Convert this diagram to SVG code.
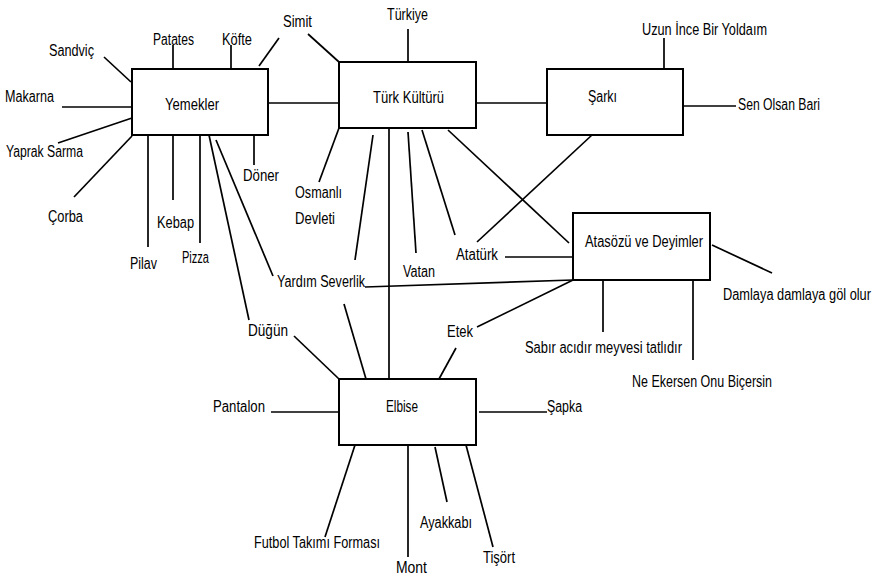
<svg xmlns="http://www.w3.org/2000/svg" width="881" height="580" viewBox="0 0 881 580">
<style>
.bg{fill:#fff}
.box{fill:#fff;stroke:#000;stroke-width:2}
.c line{stroke:#000;stroke-width:1.7}
text{font-family:"Liberation Sans",Arial,sans-serif;font-size:16px;fill:#000}
</style>
<rect class="bg" x="0" y="0" width="881" height="580"/>
<g id="connectors" class="c">
<line x1="104" y1="57" x2="131" y2="82"/>
<line x1="173" y1="45" x2="173" y2="69"/>
<line x1="231" y1="45" x2="231" y2="69"/>
<line x1="279" y1="38" x2="259" y2="66"/>
<line x1="308" y1="34" x2="339" y2="62"/>
<line x1="62" y1="107" x2="132" y2="107"/>
<line x1="58" y1="143" x2="132" y2="118"/>
<line x1="74" y1="197" x2="132" y2="136"/>
<line x1="148" y1="135" x2="148" y2="247"/>
<line x1="173" y1="135" x2="173" y2="200"/>
<line x1="200" y1="135" x2="200" y2="243"/>
<line x1="254" y1="135" x2="254" y2="165"/>
<line x1="209" y1="135" x2="249" y2="320"/>
<line x1="216" y1="140" x2="273" y2="276"/>
<line x1="268" y1="103" x2="339" y2="103"/>
<line x1="408" y1="29" x2="408" y2="62"/>
<line x1="339" y1="128" x2="319" y2="182"/>
<line x1="373" y1="135" x2="355" y2="260"/>
<line x1="389" y1="128" x2="389" y2="379"/>
<line x1="408" y1="132" x2="416" y2="253"/>
<line x1="422" y1="130" x2="455" y2="235"/>
<line x1="448" y1="130" x2="569" y2="243"/>
<line x1="476" y1="103" x2="547" y2="103"/>
<line x1="592" y1="135" x2="477" y2="242"/>
<line x1="664" y1="38" x2="664" y2="69"/>
<line x1="683" y1="106" x2="736" y2="106"/>
<line x1="505" y1="257" x2="573" y2="257"/>
<line x1="365" y1="287" x2="573" y2="280"/>
<line x1="573" y1="280" x2="477" y2="327"/>
<line x1="712" y1="245" x2="772" y2="273"/>
<line x1="603" y1="280" x2="603" y2="332"/>
<line x1="693" y1="280" x2="693" y2="360"/>
<line x1="456" y1="348" x2="439" y2="379"/>
<line x1="294" y1="336" x2="339" y2="379"/>
<line x1="344" y1="304" x2="366" y2="379"/>
<line x1="271" y1="412" x2="339" y2="412"/>
<line x1="479" y1="412" x2="547" y2="412"/>
<line x1="355" y1="445" x2="325" y2="537"/>
<line x1="408" y1="445" x2="408" y2="557"/>
<line x1="435" y1="447" x2="447" y2="502"/>
<line x1="466" y1="445" x2="493" y2="547"/>
</g>
<g id="yemekler"><rect class="box" x="132" y="69" width="136" height="66"/><text x="165" y="110" textLength="54" lengthAdjust="spacingAndGlyphs">Yemekler</text></g>
<g id="turk-kulturu"><rect class="box" x="339" y="62" width="137" height="66"/><text x="373" y="103" textLength="71" lengthAdjust="spacingAndGlyphs">Türk Kültürü</text></g>
<g id="sarki"><rect class="box" x="547" y="69" width="136" height="66"/><text x="588" y="102" textLength="29" lengthAdjust="spacingAndGlyphs">Şarkı</text></g>
<g id="atasozu"><rect class="box" x="573" y="213" width="137" height="67"/><text x="585" y="247" textLength="118" lengthAdjust="spacingAndGlyphs">Atasözü ve Deyimler</text></g>
<g id="elbise"><rect class="box" x="339" y="379" width="137" height="66"/><text x="386" y="412" textLength="32" lengthAdjust="spacingAndGlyphs">Elbise</text></g>
<g id="labels">
<text x="49" y="56" textLength="45" lengthAdjust="spacingAndGlyphs">Sandviç</text>
<text x="153" y="45" textLength="41" lengthAdjust="spacingAndGlyphs">Patates</text>
<text x="222" y="45" textLength="30" lengthAdjust="spacingAndGlyphs">Köfte</text>
<text x="283" y="27" textLength="29" lengthAdjust="spacingAndGlyphs">Simit</text>
<text x="5" y="102" textLength="49" lengthAdjust="spacingAndGlyphs">Makarna</text>
<text x="6" y="157" textLength="77" lengthAdjust="spacingAndGlyphs">Yaprak Sarma</text>
<text x="48" y="222" textLength="35" lengthAdjust="spacingAndGlyphs">Çorba</text>
<text x="130" y="269" textLength="27" lengthAdjust="spacingAndGlyphs">Pilav</text>
<text x="157" y="228" textLength="37" lengthAdjust="spacingAndGlyphs">Kebap</text>
<text x="182" y="263" textLength="27" lengthAdjust="spacingAndGlyphs">Pizza</text>
<text x="243" y="181" textLength="36" lengthAdjust="spacingAndGlyphs">Döner</text>
<text x="295" y="198" textLength="47" lengthAdjust="spacingAndGlyphs">Osmanlı</text>
<text x="295" y="224" textLength="40" lengthAdjust="spacingAndGlyphs">Devleti</text>
<text x="277" y="287" textLength="88" lengthAdjust="spacingAndGlyphs">Yardım Severlik</text>
<text x="403" y="277" textLength="32" lengthAdjust="spacingAndGlyphs">Vatan</text>
<text x="456" y="260" textLength="42" lengthAdjust="spacingAndGlyphs">Atatürk</text>
<text x="387" y="20" textLength="41" lengthAdjust="spacingAndGlyphs">Türkiye</text>
<text x="642" y="35" textLength="125" lengthAdjust="spacingAndGlyphs">Uzun İnce Bir Yoldaım</text>
<text x="738" y="110" textLength="82" lengthAdjust="spacingAndGlyphs">Sen Olsan Bari</text>
<text x="723" y="300" font-size="14" textLength="148" lengthAdjust="spacingAndGlyphs">Damlaya damlaya göl olur</text>
<text x="525" y="353" textLength="157" lengthAdjust="spacingAndGlyphs">Sabır acıdır meyvesi tatlıdır</text>
<text x="632" y="387" textLength="140" lengthAdjust="spacingAndGlyphs">Ne Ekersen Onu Biçersin</text>
<text x="447" y="337" textLength="26" lengthAdjust="spacingAndGlyphs">Etek</text>
<text x="248" y="336" textLength="40" lengthAdjust="spacingAndGlyphs">Düğün</text>
<text x="213" y="412" textLength="52" lengthAdjust="spacingAndGlyphs">Pantalon</text>
<text x="547" y="412" textLength="35" lengthAdjust="spacingAndGlyphs">Şapka</text>
<text x="254" y="548" textLength="126" lengthAdjust="spacingAndGlyphs">Futbol Takımı Forması</text>
<text x="396" y="573" textLength="31" lengthAdjust="spacingAndGlyphs">Mont</text>
<text x="420" y="528" textLength="52" lengthAdjust="spacingAndGlyphs">Ayakkabı</text>
<text x="483" y="563" textLength="32" lengthAdjust="spacingAndGlyphs">Tişört</text>
</g>
</svg>
